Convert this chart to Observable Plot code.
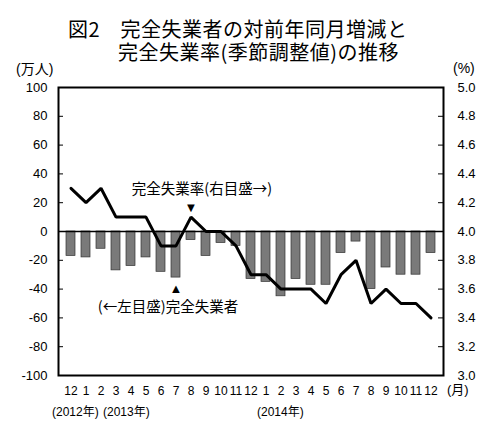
<!DOCTYPE html>
<html>
<head>
<meta charset="utf-8">
<script src="https://cdn.jsdelivr.net/npm/d3@7"></script>
<script src="https://cdn.jsdelivr.net/npm/@observablehq/plot@0.6"></script>
<style>
  body { margin: 0; background: #fff; }
  #wrap { position: relative; width: 500px; height: 437px; background: #fff; font-family: "Liberation Sans", "Noto Sans CJK JP", sans-serif; color: #000; }
  .t { position: absolute; font-family: "Noto Sans CJK JP", sans-serif; font-size: 20px; line-height: 23px; letter-spacing: 0.5px; white-space: pre-line; padding-left: 50px; text-indent: -50px; }
  .u { position: absolute; font-size: 14px; line-height: 16px; white-space: nowrap; }
  #chart { position: absolute; left: 0; top: 60px; }
</style>
</head>
<body>
<div id="wrap">
  <div class="t" id="title" style="left:68px;top:16.5px;width:400px"></div>
  <div class="u" style="left:16px;top:61px">(万人)</div>
  <div class="u" style="left:453px;top:60px">(%)</div>
  <div class="u" style="left:447px;top:382px;font-size:13px">(月)</div>
  <div id="chart"></div>
</div>
<script>
// Title
const title = "図2　完全失業者の対前年同月増減と\n完全失業率(季節調整値)の推移";
// Month tick labels (Dec 2012 – Dec 2014)
const months = ["12","1","2","3","4","5","6","7","8","9","10","11","12","1","2","3","4","5","6","7","8","9","10","11","12"];
// Year-on-year change in unemployed persons (10,000 persons), left axis
const change = [-17,-18,-12,-27,-24,-18,-28,-32,-6,-17,-8,-10,-33,-35,-45,-33,-37,-37,-15,-7,-40,-25,-30,-30,-15];
// Unemployment rate, seasonally adjusted (%), right axis
const rate = [4.3,4.2,4.3,4.1,4.1,4.1,3.9,3.9,4.1,4.0,4.0,3.9,3.7,3.7,3.6,3.6,3.6,3.5,3.7,3.8,3.5,3.6,3.5,3.5,3.4];
// Axis ticks
const leftTicks = [-100,-80,-60,-40,-20,0,20,40,60,80,100];
const yearLabels = ["(2012年)", "(2013年)", "(2014年)"];
const rateNote = "完全失業率(右目盛→)";
const changeNote = "(←左目盛)完全失業者";

document.getElementById("title").textContent = title;

const data = months.map((m, i) => ({i, month: m, change: change[i], rate: rate[i]}));
const rateToY = r => (r - 4) * 100;

const font = "'Liberation Sans', 'Noto Sans CJK JP', sans-serif";
const jp = "'Noto Sans CJK JP', sans-serif";

const chart = Plot.plot({
  width: 500,
  height: 377,
  marginTop: 27,
  marginBottom: 62,
  marginLeft: 58,
  marginRight: 57,
  style: {fontFamily: font, fontSize: "13px", color: "#000", background: "transparent"},
  x: {type: "band", domain: d3.range(months.length), paddingInner: 0.42, paddingOuter: 0.21},
  y: {domain: [-100, 100]},
  marks: [
    Plot.barY(data, {x: "i", y: "change", fill: "#7a7a7a", stroke: "#333", strokeWidth: 0.7}),
    Plot.ruleY([0], {stroke: "#000", strokeWidth: 1.6}),
    Plot.line(data, {x: "i", y: d => rateToY(d.rate), stroke: "#000", strokeWidth: 3, strokeLinejoin: "miter"}),
    Plot.frame({stroke: "#000", strokeWidth: 2}),
    Plot.ruleY(leftTicks, {insetRight: 380, stroke: "#000", strokeWidth: 1}),
    Plot.ruleY(leftTicks, {insetLeft: 380, stroke: "#000", strokeWidth: 1}),
    Plot.axisY(leftTicks, {anchor: "left", tickSize: 0, tickPadding: 11, tickFormat: d => String(d), label: null, fontSize: 13}),
    Plot.axisY(leftTicks, {anchor: "right", tickSize: 0, tickPadding: 14, tickFormat: d => (4 + d / 100).toFixed(1), label: null, fontSize: 13}),
    Plot.axisX({tickSize: 0, tickPadding: 11, tickFormat: i => months[i], label: null, fontSize: 12}),
    // Year labels
    Plot.text([data[0]], {x: "i", frameAnchor: "bottom", text: () => yearLabels[0], textAnchor: "start", dx: -19, dy: 40, fontSize: 12}),
    Plot.text([data[1]], {x: "i", frameAnchor: "bottom", text: () => yearLabels[1], textAnchor: "start", dx: 17, dy: 40, fontSize: 12}),
    Plot.text([data[13]], {x: "i", frameAnchor: "bottom", text: () => yearLabels[2], textAnchor: "start", dx: -9, dy: 40, fontSize: 12}),
    // Annotations
    Plot.text([data[8]], {x: "i", y: d => rateToY(d.rate), text: () => "▼", dy: -9, fontSize: 13, fontFamily: font}),
    Plot.text([data[8]], {x: "i", y: d => rateToY(d.rate), text: () => rateNote, dx: 11, dy: -28, fontSize: 14.5, fontFamily: jp}),
    Plot.text([data[7]], {x: "i", y: "change", text: () => "▲", dy: 11, fontSize: 13, fontFamily: font}),
    Plot.text([data[7]], {x: "i", y: "change", text: () => changeNote, dx: -8, dy: 30, fontSize: 14.5, fontFamily: jp})
  ]
});
document.getElementById("chart").appendChild(chart);
</script>
</body>
</html>
